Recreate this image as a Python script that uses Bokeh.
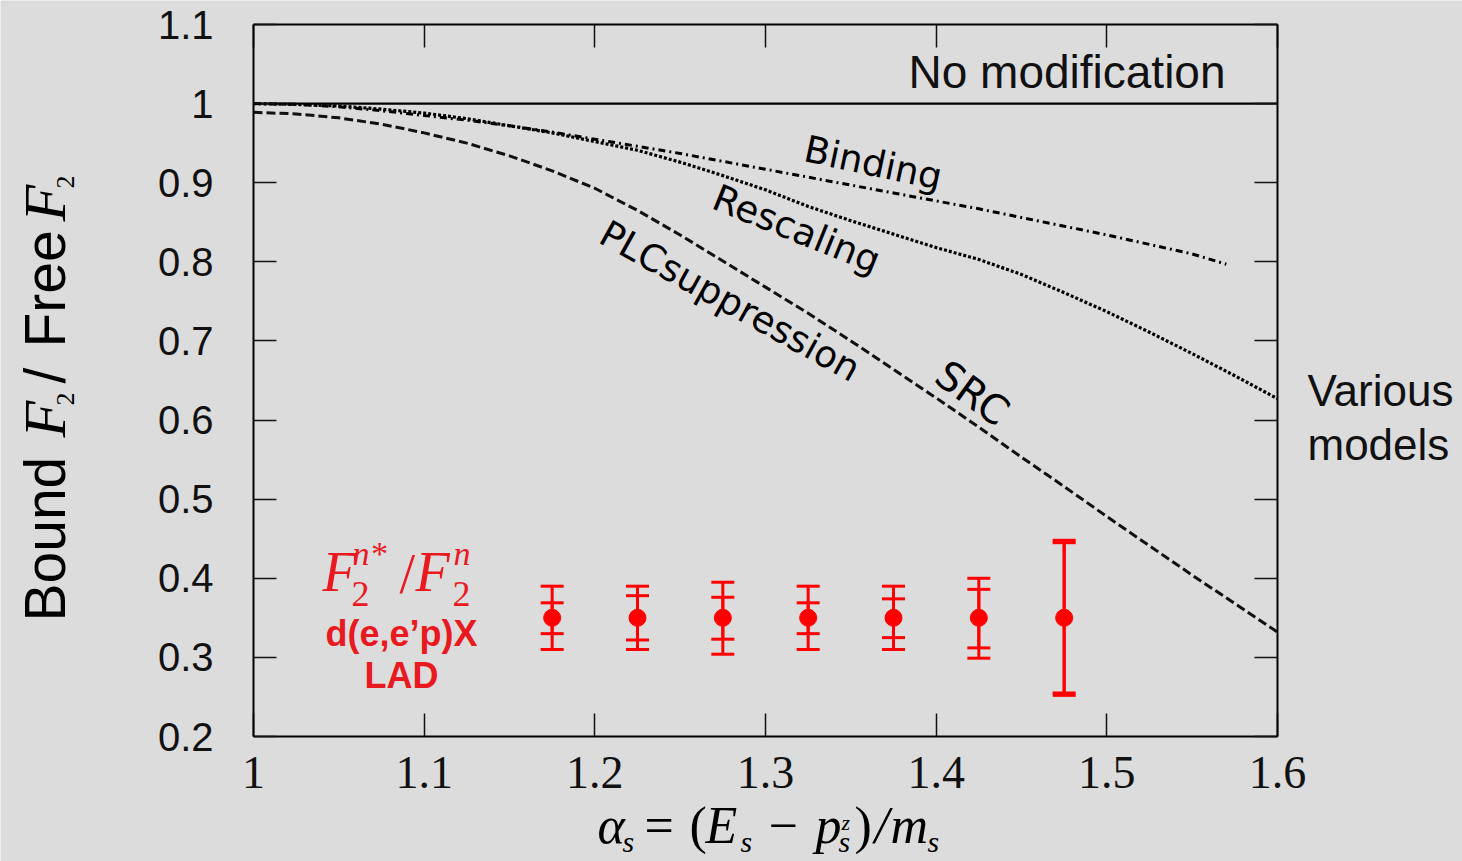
import math
from bokeh.plotting import figure
from bokeh.models import (Label, Whisker, TeeHead, ColumnDataSource, FixedTicker,
                          CustomJSTickFormatter, LinearAxis, Range1d)
from bokeh.embed import file_html
from bokeh.resources import INLINE

# ---------------- data ----------------
alpha_grid = [1.000, 1.025, 1.050, 1.075, 1.100, 1.125, 1.150, 1.175, 1.200, 1.225, 1.250,
              1.275, 1.300, 1.325, 1.350, 1.375, 1.400, 1.425, 1.450, 1.475, 1.500, 1.525,
              1.550, 1.575, 1.600]
no_mod = [1.0] * len(alpha_grid)
rescaling = [1.000, 0.999, 0.997, 0.993, 0.988, 0.981, 0.972, 0.963, 0.952, 0.941, 0.926,
             0.909, 0.891, 0.870, 0.852, 0.835, 0.818, 0.803, 0.784, 0.761, 0.737, 0.711,
             0.684, 0.656, 0.627]
src_plc = [0.989, 0.987, 0.982, 0.974, 0.963, 0.950, 0.934, 0.915, 0.893, 0.865, 0.834,
           0.801, 0.768, 0.735, 0.700, 0.664, 0.628, 0.591, 0.553, 0.516, 0.478, 0.441,
           0.404, 0.368, 0.332]
binding_alpha = [1.000, 1.025, 1.050, 1.075, 1.100, 1.125, 1.150, 1.175, 1.200, 1.225, 1.250,
                 1.275, 1.300, 1.325, 1.350, 1.375, 1.400, 1.425, 1.450, 1.475, 1.500, 1.525,
                 1.550, 1.570]
binding = [1.000, 0.999, 0.996, 0.991, 0.985, 0.979, 0.972, 0.964, 0.955, 0.946, 0.937,
           0.927, 0.917, 0.907, 0.897, 0.887, 0.877, 0.867, 0.856, 0.845, 0.834, 0.822,
           0.810, 0.797]

lad_alpha = [1.175, 1.225, 1.275, 1.325, 1.375, 1.425, 1.475]
lad_ratio = [0.35, 0.35, 0.35, 0.35, 0.35, 0.35, 0.35]
stat_hi = [0.369, 0.378, 0.376, 0.369, 0.374, 0.386, 0.445]
stat_lo = [0.330, 0.322, 0.323, 0.330, 0.325, 0.312, 0.255]
tot_hi = [0.390, 0.390, 0.395, 0.390, 0.390, 0.400, 0.448]
tot_lo = [0.310, 0.310, 0.304, 0.310, 0.310, 0.299, 0.252]

x_ticks = [1.0, 1.1, 1.2, 1.3, 1.4, 1.5, 1.6]
y_ticks = [0.2, 0.3, 0.4, 0.5, 0.6, 0.7, 0.8, 0.9, 1.0, 1.1]

# ---------------- layout ----------------
W, H = 1462, 861
FL, FR, FT, FB = 253, 1277, 24, 736      # pixel box of the data area
X0, X1, Y0, Y1 = 1.0, 1.6, 0.2, 1.1
BG = "#dcdcdc"
RED = "#ff0000"
TRED = "#e8191f"


def X(px):
    return X0 + (px - FL) / (FR - FL) * (X1 - X0)


def Y(py):
    return Y1 - (py - FT) / (FB - FT) * (Y1 - Y0)


# the frame covers the whole canvas; the box is drawn by axes at fixed locations
p = figure(width=W, height=H, output_backend="svg", toolbar_location=None,
           x_range=Range1d(X(0), X(W)), y_range=Range1d(Y(H), Y(0)),
           x_axis_location=None, y_axis_location=None, min_border=0,
           background_fill_color=BG, border_fill_color=BG)
p.grid.visible = False
p.outline_line_color = None

fmt = CustomJSTickFormatter(code="return tick.toFixed(1).replace(/\\.0$/, '');")
blank = CustomJSTickFormatter(code="return '';")

bottom_ax = LinearAxis(fixed_location=Y0, bounds=(X0, X1), ticker=FixedTicker(ticks=x_ticks),
                       formatter=fmt, major_label_text_font="Liberation Serif",
                       major_label_text_font_size="46px", major_label_text_color="#111111",
                       major_label_standoff=20)
left_ax = LinearAxis(fixed_location=X0, bounds=(Y0, Y1), ticker=FixedTicker(ticks=y_ticks),
                     formatter=fmt, major_label_text_font="Liberation Sans",
                     major_label_text_font_size="40px", major_label_text_color="#111111",
                     major_label_standoff=40)
top_ax = LinearAxis(fixed_location=Y1, bounds=(X0, X1), ticker=FixedTicker(ticks=x_ticks),
                    formatter=blank)
right_ax = LinearAxis(fixed_location=X1, bounds=(Y0, Y1), ticker=FixedTicker(ticks=y_ticks),
                      formatter=blank)
p.add_layout(bottom_ax, "below")
p.add_layout(left_ax, "left")
p.add_layout(top_ax, "above")
p.add_layout(right_ax, "right")

for ax in [bottom_ax, left_ax, top_ax, right_ax]:
    ax.axis_line_color = "black"
    ax.axis_line_width = 2
    ax.major_tick_in = 23
    ax.major_tick_out = 0
    ax.minor_tick_line_color = None
    ax.major_tick_line_color = "#111111"
    ax.major_tick_line_width = 1.5

# ---------------- curves ----------------
p.line(alpha_grid, no_mod, line_color="black", line_width=2.2)
p.line(binding_alpha, binding, line_color="black", line_width=3, line_dash="7 4 2 4")
p.line(alpha_grid, rescaling, line_color="black", line_width=3.2, line_dash="3 2")
p.line(alpha_grid, src_plc, line_color="#111111", line_width=3, line_dash="9 4")

# ---------------- LAD data ----------------
src = ColumnDataSource(dict(x=lad_alpha, y=lad_ratio, shi=stat_hi, slo=stat_lo,
                            thi=tot_hi, tlo=tot_lo))
for hi, lo in [("thi", "tlo"), ("shi", "slo")]:
    w = Whisker(source=src, base="x", upper=hi, lower=lo, line_color=RED, line_width=3,
                upper_head=TeeHead(size=23, line_color=RED, line_width=3),
                lower_head=TeeHead(size=23, line_color=RED, line_width=3))
    p.add_layout(w)
p.scatter("x", "y", source=src, size=17, color=RED)


# ---------------- texts ----------------
def lab(text, px, py, size, font="Liberation Sans", style="normal", color="black",
        angle=0.0, align="left"):
    # (px, py) is the wanted baseline point; shift by the renderer's baseline offset
    a = math.radians(angle)
    d = 0.3 * size
    ax_, ay_ = px - d * math.sin(a), py - d * math.cos(a)
    p.add_layout(Label(x=X(ax_), y=Y(ay_), text=text, text_font=font,
                       text_font_size=f"{size}px", text_font_style=style,
                       text_color=color, angle=angle, angle_units="deg",
                       text_align=align, text_baseline="alphabetic"))


lab("No modification", 908, 85, 46, color="#111111")
lab("Various", 1307, 403, 44, color="#111111")
lab("models", 1307, 457, 44, color="#111111")

DV = "DejaVu Sans"
lab("Binding", 802, 159, 37, font=DV, angle=-12)
lab("Rescaling", 710, 206, 37, font=DV, angle=-22)
lab("PLCsuppression", 597, 240, 37, font=DV, angle=-29)
lab("SRC", 933, 379, 40, font=DV, angle=-36)

# red label F2n*/F2n
SER = "Liberation Serif"
lab("F", 322, 588, 56, font=SER, style="italic", color=TRED)
lab("n*", 352, 563, 34, font=SER, style="italic", color=TRED)
lab("2", 351, 604, 36, font=SER, color=TRED)
lab("/", 399, 590, 56, font=SER, color=TRED)
lab("F", 415, 588, 56, font=SER, style="italic", color=TRED)
lab("n", 453, 563, 34, font=SER, style="italic", color=TRED)
lab("2", 452, 604, 36, font=SER, color=TRED)
lab("d(e,e\u2019p)X", 401, 644, 36, style="bold", color=TRED, align="center")
lab("LAD", 401, 686, 36, style="bold", color=TRED, align="center")

# x axis title: alpha_s = (E_s - p_s^z)/m_s
BL, SB = 841, 850
lab("\u03b1", 597, BL, 52, font=SER, style="italic")
lab("s", 622, SB, 30, font=SER, style="italic")
lab("=", 644, BL, 52, font=SER)
lab("(", 689, BL, 52, font=SER)
lab("E", 705, BL, 52, font=SER, style="italic")
lab("s", 740, SB, 30, font=SER, style="italic")
lab("\u2212", 768, BL, 52, font=SER)
lab("p", 815, BL, 52, font=SER, style="italic")
lab("s", 838, SB, 30, font=SER, style="italic")
lab("z", 841, 829, 22, font=SER, style="italic")
lab(")", 854, BL, 52, font=SER)
lab("/", 874, BL, 52, font=SER, style="italic")
lab("m", 890, BL, 52, font=SER, style="italic")
lab("s", 927, SB, 30, font=SER, style="italic")

# y axis title: Bound F_2 / Free F_2 (rotated)
lab("Bound", 62, 621, 57, angle=90)
lab("F", 62, 437, 60, font=SER, style="italic", angle=90)
lab("2", 73, 405, 26, font=SER, angle=90)
lab("/", 62, 383, 57, angle=90)
lab("Free", 62, 347, 57, angle=90)
lab("F", 62, 221, 60, font=SER, style="italic", angle=90)
lab("2", 73, 188, 26, font=SER, angle=90)

open("out.html", "w").write(file_html(p, INLINE))
